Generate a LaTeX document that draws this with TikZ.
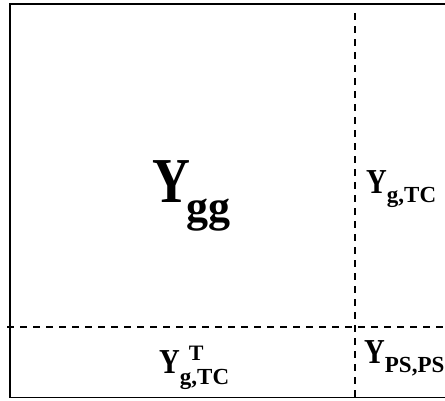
\documentclass[tikz,border=0pt]{standalone}
\usepackage{fontspec}
\setmainfont{Liberation Serif}
\newcommand{\narrowY}[1]{{\fontsize{#1}{#1}\selectfont\scalebox{0.82}[1]{Y}}}
\newcommand{\idx}[3]{\raisebox{#1}{\fontsize{#2}{#2}\selectfont #3}}

\begin{document}
\begin{tikzpicture}[
    x=1pt, y=-1pt,
    frame/.style={draw, line width=1.9pt},
    split/.style={draw, line width=1.5pt, dash pattern=on 6.5pt off 6.5pt},
    lbl/.style={inner sep=0pt, anchor=base west, font=\bfseries}
]
\clip (0,0) rectangle (445,400);

% Outer block
\draw[frame] (9.7,4) rectangle (470,397.5);

% Partition lines
\draw[split] (7,327) -- (445,327);
\draw[split] (355,13) -- (355,400);

% Blocks
\node[lbl] (ygg) at (152,202) {\narrowY{64}\kern-4pt\idx{-19pt}{44}{gg}};
\node[lbl] (ygtc) at (366,193) {\narrowY{35}\idx{-9pt}{23}{g,TC}};
\node[lbl] (ytgtc) at (159,373) {\narrowY{35}\rlap{\idx{13pt}{22}{\kern9pt T}}\idx{-11pt}{23}{g,TC}};
\node[lbl] (ypsps) at (364,363) {\narrowY{35}\idx{-9pt}{23}{PS,PS}};

\end{tikzpicture}
\end{document}
